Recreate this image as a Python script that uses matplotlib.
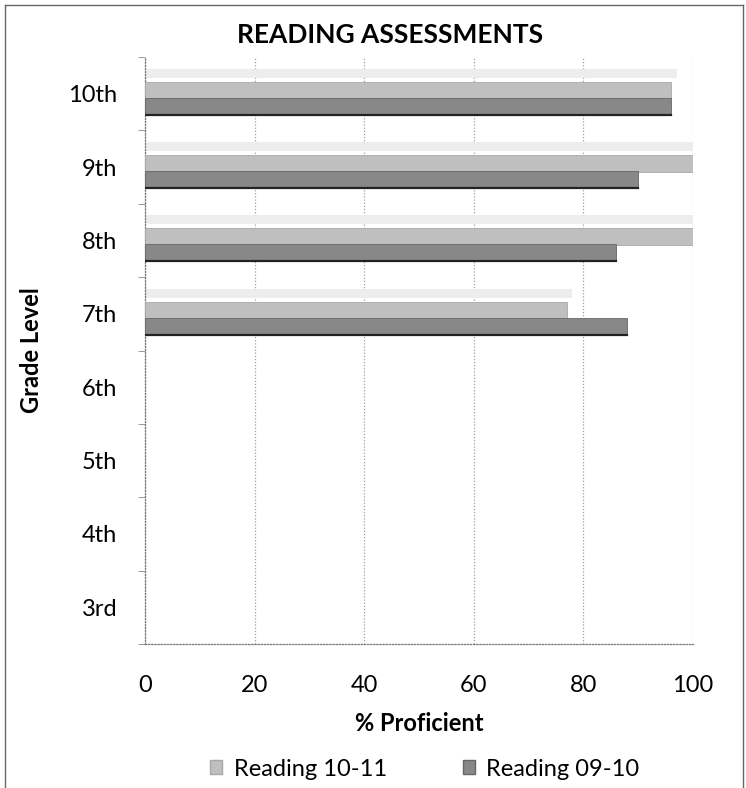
import matplotlib
matplotlib.use("Agg")
import matplotlib.pyplot as plt
from matplotlib.lines import Line2D
from matplotlib.patches import Patch
import numpy as np

plt.rcParams['font.family'] = ['Lato', 'DejaVu Sans']

# Chart data
grades = ["3rd", "4th", "5th", "6th", "7th", "8th", "9th", "10th"]
reading_10_11 = [0, 0, 0, 0, 77, 100, 100, 96]
reading_09_10 = [0, 0, 0, 0, 88, 86, 90, 96]
x_ticks = [0, 20, 40, 60, 80, 100]

W, H = 746, 788
fig = plt.figure(figsize=(W / 100, H / 100), dpi=100)
ax = fig.add_axes([145 / W, 1 - 644 / H, 548 / W, (644 - 57) / H])

y = np.arange(len(grades))
bar_h = 0.23

# only grades that have results get bars
has_light = [i for i, v in enumerate(reading_10_11) if v > 0]
has_dark = [i for i, v in enumerate(reading_09_10) if v > 0]
light_vals = [reading_10_11[i] for i in has_light]
dark_vals = [reading_09_10[i] for i in has_dark]

# faint 3D top face of the front series
ax.barh(np.array(has_light) + 0.28, [v + 1 for v in light_vals], height=0.12,
        color="#ededed", edgecolor="none", zorder=2)
ax.barh(np.array(has_light) + 0.05, light_vals, height=bar_h, color="#bfbfbf",
        edgecolor="#a8a8a8", linewidth=0.6, zorder=3)
ax.barh(np.array(has_dark) - 0.17, dark_vals, height=bar_h, color="#888888",
        edgecolor="#666666", linewidth=0.6, zorder=3)
# darker bottom edge of the dark bars
for yi, v in zip(has_dark, dark_vals):
    ax.plot([0, v], [yi - 0.17 - bar_h / 2] * 2, color="#222222", lw=1.6, zorder=4)

ax.set_xlim(0, 100)
ax.set_ylim(-0.5, len(grades) - 0.5)
ax.set_xticks(x_ticks)
ax.set_yticks(y)
ax.set_yticklabels(grades)
ax.set_yticks(np.arange(-0.5, len(grades), 1.0), minor=True)
ax.tick_params(axis="y", which="major", length=0, pad=20, labelsize=17)
ax.tick_params(axis="y", which="minor", length=5, color="#888888", direction="out")
ax.tick_params(axis="x", length=0, pad=22, labelsize=17)

ax.xaxis.grid(True, linestyle=(0, (1, 1.5)), color="#a0a0a0", linewidth=0.9)
ax.set_axisbelow(True)
for side in ["top", "right"]:
    ax.spines[side].set_visible(False)
for side in ["left", "bottom"]:
    ax.spines[side].set_linestyle((0, (1, 1.5)))
    ax.spines[side].set_color("#777777")
    ax.spines[side].set_linewidth(0.9)

ax.set_xlabel("% Proficient", fontsize=17, fontweight="bold", labelpad=12)
ax.set_ylabel("Grade Level", fontsize=17, fontweight="bold", labelpad=18)
fig.text(390 / W, 1 - 35 / H, "READING ASSESSMENTS", ha="center", va="center",
         fontsize=19, fontweight="bold")

handles = [Patch(facecolor="#bfbfbf", edgecolor="#a8a8a8"),
           Patch(facecolor="#888888", edgecolor="#666666")]
fig.legend(handles, ["Reading 10-11", "Reading 09-10"], loc="center",
           bbox_to_anchor=(425 / W, 1 - 769 / H), ncol=2, frameon=False,
           fontsize=17, handlelength=0.5, handleheight=0.5, handletextpad=0.5,
           columnspacing=3.2)

# outer chart frame
for xs, ys in [([5, 5], [5, H]), ([5, 743], [5, 5]), ([743, 743], [5, H])]:
    fig.add_artist(Line2D([v / W for v in xs], [1 - v / H for v in ys],
                          color="#666666", lw=1.0, transform=fig.transFigure))

fig.savefig("out.png", dpi=100)
